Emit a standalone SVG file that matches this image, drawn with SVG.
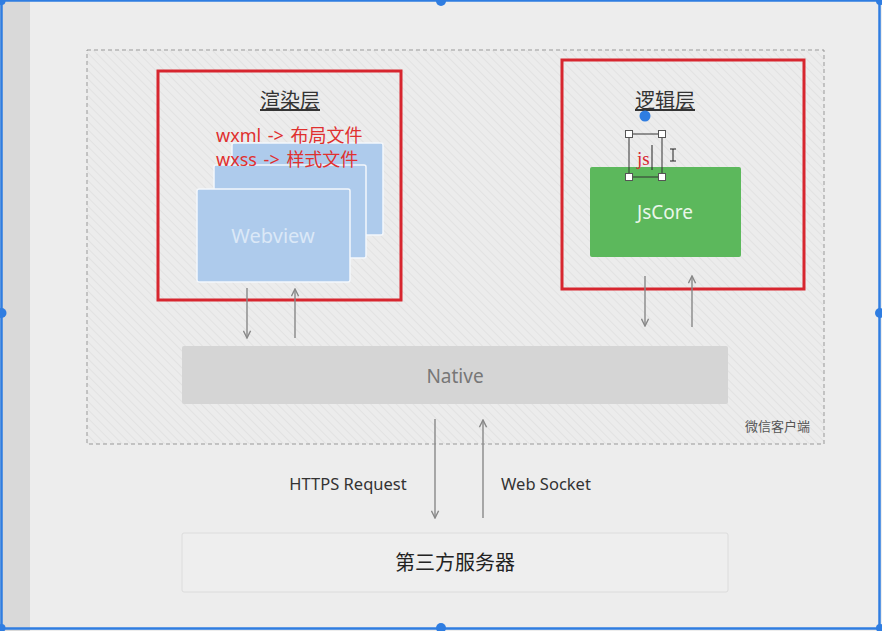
<svg xmlns="http://www.w3.org/2000/svg" width="882" height="631" viewBox="0 0 882 631">
  <style>
    .t { font-family: "Noto Sans", "Noto Sans CJK SC", "Liberation Sans", sans-serif; }
    .cn { font-family: "Noto Sans CJK SC", "Noto Sans", sans-serif; }
    .layer { fill: none; stroke: #d7262f; stroke-width: 3; }
    .conn { stroke: #888; stroke-width: 1.4; fill: none; }
    .card { fill: #aecbec; stroke: #f4f7fb; stroke-width: 1.5; }
    .title { font-size: 20px; fill: #333; text-anchor: middle; }
    .note { font-size: 18px; fill: #e0302f; word-spacing: 2px; }
    .handle { fill: #fff; stroke: #555; stroke-width: 1; }
    .sel { fill: #2f7de1; }
  </style>
  <defs>
    <pattern id="hatch" patternUnits="userSpaceOnUse" width="6" height="6" patternTransform="rotate(-45)">
      <rect width="6" height="6" fill="#ececec"/>
      <line x1="0" y1="0" x2="0" y2="6" stroke="#dcdcdc" stroke-width="1.2"/>
    </pattern>
    <marker id="arr" viewBox="0 0 10 10" refX="9" refY="5" markerWidth="9" markerHeight="9" markerUnits="userSpaceOnUse" orient="auto">
      <path d="M1,1 L9,5 L1,9" fill="none" stroke="#888" stroke-width="1.6"/>
    </marker>
  </defs>

  <!-- canvas -->
  <rect width="882" height="631" fill="#ededed"/>
  <rect x="0" y="0" width="30" height="631" fill="#d9d9d9"/>

  <!-- client container -->
  <g id="client">
    <rect x="87" y="50" width="737" height="394" fill="url(#hatch)" stroke="#999" stroke-width="1" stroke-dasharray="4,3"/>
    <text class="cn" x="810" y="431" font-size="13" fill="#555" text-anchor="end">微信客户端</text>
  </g>

  <!-- render layer -->
  <g id="render-layer">
    <rect class="layer" x="158" y="71" width="243" height="229"/>
    <text class="cn title" x="290" y="108" text-decoration="underline">渲染层</text>
    <rect class="card" x="232" y="143" width="151" height="92" rx="2"/>
    <rect class="card" x="214" y="165" width="152" height="93" rx="2"/>
    <rect class="card" x="197" y="189" width="153" height="93" rx="2"/>
    <text class="t" x="273" y="243" font-size="20" fill="#dbe8f7" text-anchor="middle">Webview</text>
    <text class="t note" x="216" y="142">wxml -&gt; <tspan class="cn">布局文件</tspan></text>
    <text class="t note" x="216" y="166">wxss -&gt; <tspan class="cn">样式文件</tspan></text>
  </g>

  <!-- logic layer -->
  <g id="logic-layer">
    <rect class="layer" x="562" y="60" width="242" height="229"/>
    <text class="cn title" x="665" y="108" text-decoration="underline">逻辑层</text>
    <rect x="590" y="167" width="151" height="90" rx="2" fill="#5cb85c"/>
    <text class="t" x="665" y="219" font-size="19" fill="#eaf6ea" text-anchor="middle">JsCore</text>
  </g>

  <!-- js text with edit selection -->
  <g id="js-label">
    <rect x="629" y="134" width="33" height="43" fill="none" stroke="#333" stroke-width="1"/>
    <text x="637" y="165" font-family="'Liberation Serif', serif" font-size="19" fill="#d7262f">js</text>
    <line x1="652" y1="145" x2="652" y2="170" stroke="#222" stroke-width="1"/>
    <rect class="handle" x="625.5" y="130.5" width="7" height="7" stroke="#222"/>
    <rect class="handle" x="658.5" y="130.5" width="7" height="7" stroke="#222"/>
    <rect class="handle" x="625.5" y="173.5" width="7" height="7" stroke="#666"/>
    <rect class="handle" x="658.5" y="173.5" width="7" height="7" stroke="#666"/>
    <path d="M670,149 H676 M673,149 V161 M670,161 H676" stroke="#222" stroke-width="1" fill="none"/>
    <circle class="sel" cx="645" cy="116" r="5.5"/>
  </g>

  <!-- native -->
  <g id="native">
    <rect x="182" y="346" width="546" height="58" rx="2" fill="#d5d5d5"/>
    <text class="t" x="455" y="383" font-size="19" fill="#777" text-anchor="middle">Native</text>
  </g>

  <!-- third-party server -->
  <g id="server">
    <rect x="182" y="533" width="546" height="59" rx="2" fill="#eeeeee" stroke="#dcdcdc" stroke-width="1"/>
    <text class="cn" x="455" y="570" font-size="20" fill="#222" text-anchor="middle">第三方服务器</text>
  </g>

  <!-- connectors -->
  <g id="connectors">
    <line class="conn" x1="247" y1="288" x2="247" y2="338" marker-end="url(#arr)"/>
    <line class="conn" x1="295" y1="338" x2="295" y2="289" marker-end="url(#arr)"/>
    <line class="conn" x1="645" y1="276" x2="645" y2="326" marker-end="url(#arr)"/>
    <line class="conn" x1="692" y1="327" x2="692" y2="276" marker-end="url(#arr)"/>
    <line class="conn" x1="435" y1="419" x2="435" y2="518" marker-end="url(#arr)"/>
    <line class="conn" x1="483" y1="518" x2="483" y2="420" marker-end="url(#arr)"/>
    <text class="t" x="348" y="490" font-size="16.5" fill="#333" text-anchor="middle">HTTPS Request</text>
    <text class="t" x="546" y="490" font-size="16.5" fill="#333" text-anchor="middle">Web Socket</text>
  </g>

  <!-- selection frame -->
  <g id="frame">
    <rect x="1.5" y="0.5" width="878" height="628" fill="none" stroke="#2f7de1" stroke-width="2.5"/>
    <circle class="sel" cx="441" cy="1" r="5"/>
    <circle class="sel" cx="441" cy="628" r="5"/>
    <circle class="sel" cx="1.5" cy="313" r="5"/>
    <circle class="sel" cx="880" cy="313" r="5"/>
    <circle class="sel" cx="1.5" cy="628" r="4"/>
    <circle class="sel" cx="880" cy="628" r="4"/>
    <circle class="sel" cx="1.5" cy="1" r="4"/>
    <circle class="sel" cx="880" cy="1" r="4"/>
  </g>
</svg>
